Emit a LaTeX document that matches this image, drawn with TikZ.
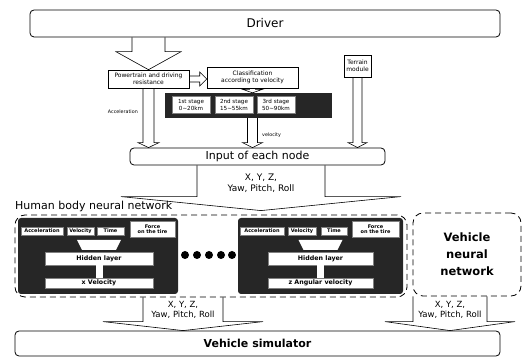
\documentclass[tikz,border=0pt]{standalone}
\usepackage{fontspec}
\setmainfont{DejaVu Sans}
\usetikzlibrary{calc}
\tikzset{
  bigbox/.style={draw=black, rounded corners=4pt, line width=0.8pt, align=center, inner sep=0pt},
  smallbox/.style={draw=black, line width=0.6pt, fill=white, align=center, inner sep=0pt, font=\fontsize{6}{7}\selectfont},
  darkbox/.style={fill=black!85, rounded corners=3pt, inner sep=0pt},
  cellbox/.style={fill=white, draw=black!50, line width=0.3pt, align=center, inner sep=0pt, font=\bfseries\fontsize{5}{5.5}\selectfont},
  netbox/.style={draw=black, dash pattern=on 6pt off 4pt, line width=0.8pt, rounded corners=10pt, inner sep=0pt},
  hollow/.style={draw=black, line width=0.6pt, line join=miter},
  netdot/.style={circle, fill=black, minimum size=8pt, inner sep=0pt},
  tinylabel/.style={font=\fontsize{4.8}{5}\selectfont, inner sep=1pt}
}
% hollow block arrow: from y of #1 down to tip #2, shaft half width #3, head half width #4, head length #5
\newcommand{\downblock}[5]{%
  \draw[hollow] let \p1=(#1), \p2=(#2) in
    (\x2-#3,\y1) -- (\x2-#3,\y2+#5) -- (\x2-#4,\y2+#5) -- (\p2)
    -- (\x2+#4,\y2+#5) -- (\x2+#3,\y2+#5) -- (\x2+#3,\y1);}

\begin{document}
\begin{tikzpicture}[x=1pt, y=1pt]
\useasboundingbox (0,0) rectangle (524,358);

% top part
\node[bigbox, minimum width=470, minimum height=27, font=\fontsize{12}{13}\selectfont] (drv) at (265,334.5) {Driver};
\node[smallbox, minimum width=81, minimum height=18] (pt) at (148.5,279) {Powertrain and driving\\resistance};
\node[smallbox, minimum width=91, minimum height=21] (cls) at (252.5,280.5) {Classification\\according to velocity};
\node[smallbox, minimum width=27, minimum height=22] (terr) at (357.5,292) {Terrain\\module};
\node[darkbox, rounded corners=0pt, minimum width=167, minimum height=25] (stage) at (248.5,252.5) {};
\node[cellbox, font=\fontsize{5.6}{6.5}\selectfont, minimum width=38, minimum height=17] (st1) at (191,253) {1st stage\\0\textasciitilde 20km};
\node[cellbox, font=\fontsize{5.6}{6.5}\selectfont, minimum width=38, minimum height=17] (st2) at (234,253) {2nd stage\\15\textasciitilde 55km};
\node[cellbox, font=\fontsize{5.6}{6.5}\selectfont, minimum width=38, minimum height=17] (st3) at (276,253) {3rd stage\\50\textasciitilde 90km};
\node[bigbox, minimum width=255, minimum height=17, font=\fontsize{11}{12}\selectfont] (inp) at (257.5,201.5) {Input of each node};
\node[tinylabel, anchor=east] (acclbl) at (139,246) {Acceleration};
\node[tinylabel, anchor=west] (vellbl) at (261,223) {velocity};

\draw[hollow] let \p1=(pt.east), \p2=(cls.west) in
  (\x1,\y1+3) -- (\x2-7,\y1+3) -- (\x2-7,\y1+7) -- (\x2,\y1)
  -- (\x2-7,\y1-7) -- (\x2-7,\y1-3) -- (\x1,\y1-3);
\downblock{drv.south}{pt.north}{16.5}{32.5}{18}
\downblock{cls.south}{cls.south |- stage.north}{3}{10}{3.5}
\downblock{pt.south}{pt.south |- inp.north}{5.5}{10.5}{5}
\downblock{stage.south}{cls.south |- inp.north}{5}{10}{5}
\downblock{terr.south}{terr.south |- inp.north}{4.5}{9.5}{5}

% neural networks
\node[font=\fontsize{9}{11}\selectfont, align=center] (xyz) at (261,175) {X, Y, Z,\\Yaw, Pitch, Roll};
\node[anchor=west, inner sep=0pt, font=\fontsize{11}{12}\selectfont] (hlbl) at (15,151.5) {Human body neural network};
\node[netbox, minimum width=392, minimum height=82] (hnn) at (211,102) {};
\node[netbox, minimum width=108, minimum height=83, align=center, font=\bfseries\fontsize{11.5}{17}\selectfont] (vnn) at (467,103.5) {Vehicle\\neural\\network};
\downblock{inp.south}{$(xyz |- hnn.north)+(0,4)$}{64}{140}{14}

\node[darkbox, minimum width=160, minimum height=76] (nnL) at (98,102) {};
\node[cellbox, minimum width=42, minimum height=8] (accL) at (42,127) {Acceleration};
\node[cellbox, minimum width=27, minimum height=8] (velL) at (80.5,127) {Velocity};
\node[cellbox, minimum width=27, minimum height=8] (timeL) at (110.5,127) {Time};
\node[cellbox, minimum width=45, minimum height=16] (forceL) at (152.5,129) {Force\\on the tire};
\node[cellbox, minimum width=108, minimum height=13, font=\bfseries\fontsize{6.3}{7}\selectfont] (hidL) at (99,99.5) {Hidden layer};
\node[cellbox, minimum width=108, minimum height=10, font=\bfseries\fontsize{6.3}{7}\selectfont] (xvL) at (99,75) {x Velocity};
\fill[white] ($(hidL.north)+(-22,12)$) -- ++(44,0) -- ($(hidL.north)+(17,2)$) -- ($(hidL.north)+(-17,2)$) -- cycle;
\fill[white] ($(hidL.south)+(-3.5,0)$) rectangle ($(xvL.north)+(3.5,0)$);

\node[darkbox, minimum width=165, minimum height=76] (nnR) at (320.5,102) {};
\node[cellbox, minimum width=44, minimum height=8] (accR) at (262,127) {Acceleration};
\node[cellbox, minimum width=28, minimum height=8] (velR) at (302,127) {Velocity};
\node[cellbox, minimum width=26, minimum height=8] (timeR) at (334,127) {Time};
\node[cellbox, minimum width=47, minimum height=16] (forceR) at (375.5,129) {Force\\on the tire};
\node[cellbox, minimum width=105, minimum height=13, font=\bfseries\fontsize{6.3}{7}\selectfont] (hidR) at (320.5,99.5) {Hidden layer};
\node[cellbox, minimum width=105, minimum height=10, font=\bfseries\fontsize{6.3}{7}\selectfont] (zR) at (320.5,75) {z Angular velocity};
\fill[white] ($(hidR.north)+(-22,12)$) -- ++(44,0) -- ($(hidR.north)+(17,2)$) -- ($(hidR.north)+(-17,2)$) -- cycle;
\fill[white] ($(hidR.south)+(-3.5,0)$) rectangle ($(zR.north)+(3.5,0)$);

\foreach \xd [count=\k] in {185,197,209,221,232}
  \node[netdot] (dot\k) at (\xd,103) {};

% bottom part
\node[bigbox, minimum width=485, minimum height=25, font=\bfseries\fontsize{11}{12}\selectfont] (vsim) at (257.5,14.5) {Vehicle simulator};
\node[font=\fontsize{8.5}{10}\selectfont, align=center] (outl) at (183,48) {X, Y, Z,\\Yaw, Pitch, Roll};
\node[font=\fontsize{8.5}{10}\selectfont, align=center] (outr) at (450,48) {X, Y, Z,\\Yaw, Pitch, Roll};
\downblock{hnn.south}{outl |- vsim.north}{40}{80}{9}
\downblock{vnn.south}{outr |- vsim.north}{37}{65}{9}
\end{tikzpicture}
\end{document}
